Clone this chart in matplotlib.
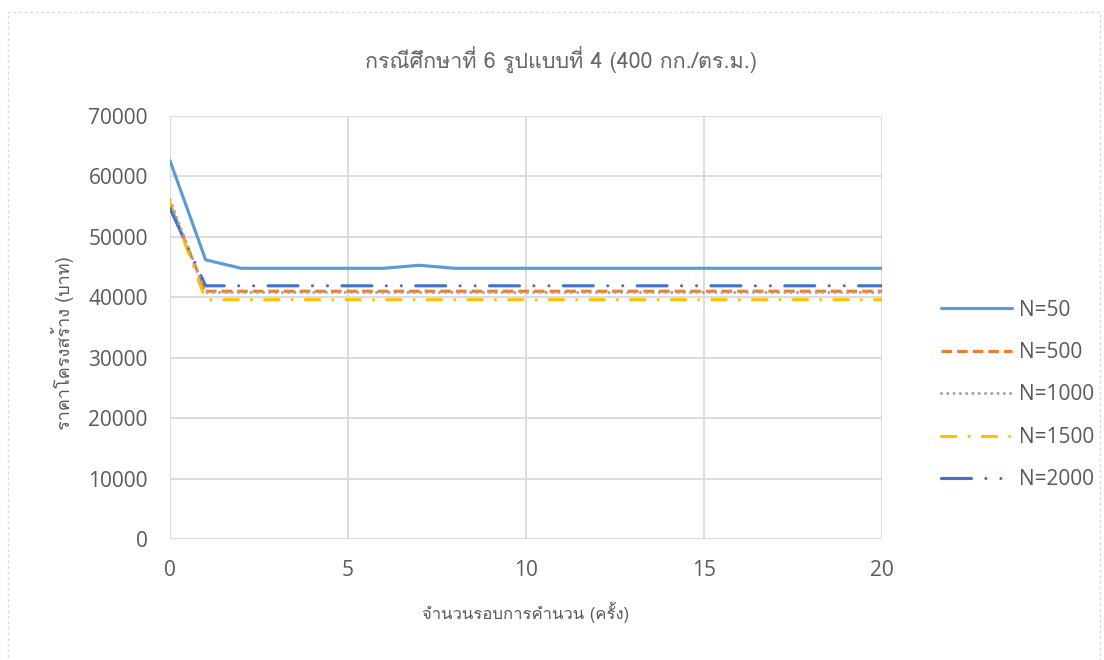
import matplotlib
matplotlib.use("Agg")
import matplotlib.pyplot as plt
from matplotlib import font_manager
from matplotlib.ft2font import FT2Font
from matplotlib.patches import Rectangle

# ---- data ----
iterations = list(range(21))
n50 = [62600, 46200, 44800, 44800, 44800, 44800, 44800, 45300, 44800, 44800,
       44800, 44800, 44800, 44800, 44800, 44800, 44800, 44800, 44800, 44800, 44800]
n500 = [55300] + [41000] * 20
n1000 = [56100] + [40800] * 20
n1500 = [55700] + [39600] * 20
n2000 = [54700] + [41900] * 20
series_labels = ["N=50", "N=500", "N=1000", "N=1500", "N=2000"]
x_ticks = [0, 5, 10, 15, 20]
y_ticks = [0, 10000, 20000, 30000, 40000, 50000, 60000, 70000]

title = "กรณีศึกษาที่ 6 รูปแบบที่ 4 (400 กก./ตร.ม.)"
x_label = "จำนวนรอบการคำนวน (ครั้ง)"
y_label = "ราคาโครงสร้าง (บาท)"


def find_thai_family():
    for f in font_manager.fontManager.ttflist:
        try:
            cmap = FT2Font(f.fname).get_charmap()
        except Exception:
            continue
        if 0x0E01 in cmap and 0x0E33 in cmap:
            return f.name
    return None


thai = find_thai_family()
text_family = [thai, "DejaVu Sans"] if thai else ["DejaVu Sans"]
num_family = ["Open Sans", "DejaVu Sans"]
grey_text = "#595959"

fig = plt.figure(figsize=(11.04, 6.6), dpi=100)
ax = fig.add_axes([170 / 1104, 1 - 539 / 660, (882 - 170) / 1104, (539 - 116) / 660])

lw = 2.25
ax.plot(iterations, n50, color="#5B9BD5", lw=lw, solid_capstyle="round",
        solid_joinstyle="round", label=series_labels[0], zorder=3)
ax.plot(iterations, n500, color="#ED7D31", lw=lw, dashes=(3.4, 1.6),
        dash_capstyle="butt", label=series_labels[1], zorder=3)
ax.plot(iterations, n1000, color="#A5A5A5", lw=lw, dashes=(0.01, 2.0),
        dash_capstyle="round", label=series_labels[2], zorder=4)
ax.plot(iterations, n1500, color="#FFC000", lw=lw, dashes=(4.6, 4.2, 0.01, 4.2),
        dash_capstyle="round", label=series_labels[3], zorder=3)
ax.plot(iterations, n2000, color="#4472C4", lw=lw,
        dashes=(9.6, 4.6, 0.01, 4.8, 0.01, 4.6),
        dash_capstyle="round", label=series_labels[4], zorder=3)

ax.set_xlim(0, 20)
ax.set_ylim(0, 70000)
ax.set_xticks(x_ticks)
ax.set_yticks(y_ticks)
ax.grid(True, color="#D9D9D9", lw=1.3, zorder=0)
for s in ax.spines.values():
    s.set_visible(False)
ax.tick_params(length=0, labelsize=15, labelcolor=grey_text)
for lab in ax.get_xticklabels() + ax.get_yticklabels():
    lab.set_family(num_family)
ax.tick_params(axis="y", pad=16)
ax.tick_params(axis="x", pad=15)

fig.text(561 / 1104, 1 - 60 / 660, title, ha="center", va="center",
         fontsize=15.5, color="#666666", family=text_family)
fig.text(526 / 1104, 1 - 613 / 660, x_label, ha="center", va="center",
         fontsize=12, color=grey_text, family=text_family)
fig.text(62 / 1104, 1 - 343 / 660, y_label, ha="center", va="center",
         rotation=90, fontsize=13, color=grey_text, family=text_family)

leg = ax.legend(loc="center left", bbox_to_anchor=(933 / 1104, 1 - 395 / 660),
                bbox_transform=fig.transFigure, frameon=False,
                prop={"family": num_family, "size": 15}, handlelength=3.37,
                handletextpad=0.34, labelspacing=1.03, borderaxespad=0)
for t in leg.get_texts():
    t.set_color(grey_text)

fig.patches.append(Rectangle((8 / 1104, -0.02), (1100 - 8) / 1104, 1 - 12 / 660 + 0.02,
                             transform=fig.transFigure, fill=False,
                             edgecolor="#D9D9D9", lw=1, ls=(0, (2, 2))))

fig.savefig("out.png", dpi=100)
